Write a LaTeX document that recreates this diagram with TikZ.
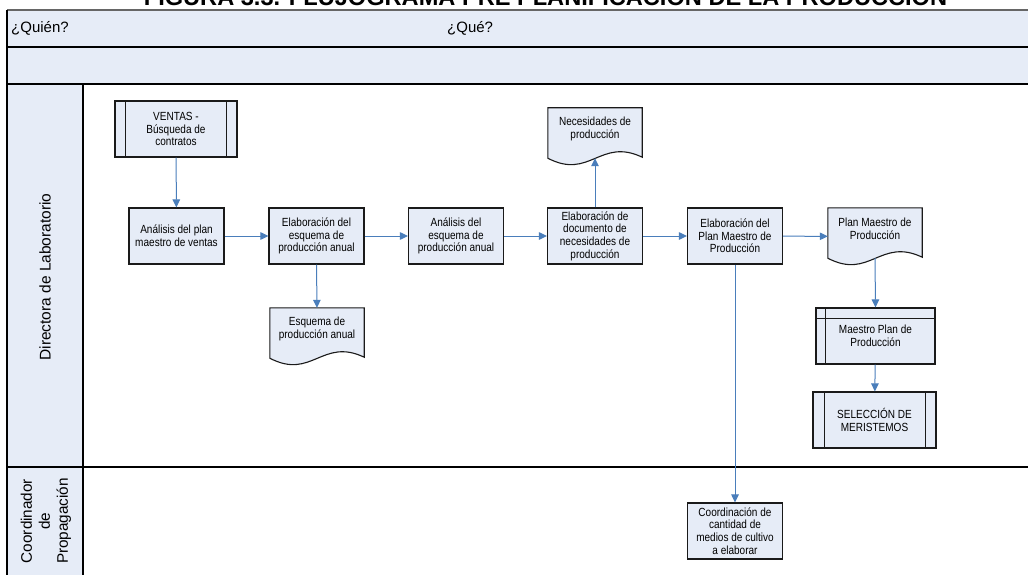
\documentclass[tikz,border=0pt]{standalone}
\usepackage{fontspec}
\setmainfont{Liberation Sans}
\newfontfamily\boxfont[FakeStretch=0.85]{Liberation Sans}
\usetikzlibrary{arrows.meta,calc}
\definecolor{paleblue}{HTML}{E6ECF7}
\definecolor{flowblue}{HTML}{4A7EBB}
\definecolor{edgegray}{HTML}{1A1A1A}

% outline of a "document" symbol with a wavy lower edge
\newcommand{\docoutline}[1]{%
  \draw[docline] (#1.north west) -- (#1.north east)
    -- ($(#1.south east)+(0,-8)$)
    .. controls ($(#1.south east)+(-42,-28)$) and ($(#1.south west)+(42,15)$)
    .. ($(#1.south west)+(0,-7)$) -- cycle;}

\begin{document}
\begin{tikzpicture}[x=1pt,y=-1pt,
  box/.style={draw=edgegray, line width=1.1pt, fill=paleblue,
    minimum width=95pt, minimum height=56pt, inner sep=1pt, align=center,
    font={\boxfont\fontsize{11.8}{12.6}\selectfont}},
  docarea/.style={minimum width=94pt, minimum height=57pt, inner sep=0pt},
  docline/.style={draw=edgegray, line width=1.1pt, fill=paleblue},
  doctext/.style={align=center, inner sep=0pt,
    font={\boxfont\fontsize{11.8}{12.6}\selectfont}},
  inner/.style={draw=edgegray, line width=1.1pt},
  flow/.style={draw=flowblue, line width=1pt, -{Triangle[length=8pt,width=7.5pt]}},
  frame/.style={draw=black, line width=1.1pt},
]
\useasboundingbox (0,0) rectangle (1028,575);
\clip (0,0) rectangle (1028,575);

% header band and lane column
\fill[paleblue] (7,10) rectangle (1040,84);
\fill[paleblue] (7,84) rectangle (83,580);
\draw[draw=black!60, line width=1.6pt] (7,10) -- (1040,10);
\draw[frame] (7,47) -- (1040,47);
\draw[frame] (7,84) -- (1040,84);
\draw[frame] (7,10) -- (7,580);
\draw[frame] (83,84) -- (83,580);
\draw[frame] (7,467) -- (1040,467);

% title (its upper part lies above the page edge)
\node[anchor=base, inner sep=0pt, font=\fontsize{23.6}{26}\selectfont\bfseries]
  (title) at (545.5,5.5) {FIGURA 3.3. FLUJOGRAMA PRE PLANIFICACIÓN DE LA PRODUCCIÓN};

% header labels
\node[anchor=west, inner sep=0pt, font=\fontsize{15}{17}\selectfont] (quien) at (11,28.5) {¿Quién?};
\node[anchor=west, inner sep=0pt, font=\fontsize{15}{17}\selectfont] (que) at (447,28.5) {¿Qué?};

% lane labels
\node[rotate=90, font=\fontsize{15.5}{18}\selectfont] (lane1) at (45,277) {Directora de Laboratorio};
\node[rotate=90, align=center, font=\fontsize{15.3}{18}\selectfont] (lane2) at (46,521) {Coordinador\\de\\Propagación};

% process steps
\node[box, minimum width=122pt] (ventas) at (176,129) {VENTAS -\\Búsqueda de\\contratos};
\draw[inner] ($(ventas.north west)+(11,0)$) -- ($(ventas.south west)+(11,0)$);
\draw[inner] ($(ventas.north east)+(-11,0)$) -- ($(ventas.south east)+(-11,0)$);

\node[box] (analisis1) at (176.5,236) {Análisis del plan\\maestro de ventas};
\node[box] (esquema) at (316.5,236) {Elaboración del\\esquema de\\producción anual};
\node[box] (analisis2) at (456,236) {Análisis del\\esquema de\\producción anual};
\node[box] (documento) at (595,236) {Elaboración de\\documento de\\necesidades de\\producción};
\node[box] (plan) at (735,236) {Elaboración del\\Plan Maestro de\\Producción};
\node[box] (coord) at (735,531) {Coordinación de\\cantidad de\\medios de cultivo\\a elaborar};

\node[box, minimum width=119pt] (maestro) at (875.5,336) {Maestro Plan de\\Producción};
\draw[inner] ($(maestro.north west)+(10,0)$) -- ($(maestro.south west)+(10,0)$);
\draw[inner] ($(maestro.north west)+(0,11)$) -- ($(maestro.north east)+(0,11)$);

\node[box, minimum width=123pt] (seleccion) at (874.5,420) {SELECCIÓN DE\\MERISTEMOS};
\draw[inner] ($(seleccion.north west)+(12,0)$) -- ($(seleccion.south west)+(12,0)$);
\draw[inner] ($(seleccion.north east)+(-11,0)$) -- ($(seleccion.south east)+(-11,0)$);

% documents
\node[docarea] (esqdoc) at (317,336.5) {};
\docoutline{esqdoc}
\node[doctext] (esqtxt) at ($(esqdoc.north)+(0,21)$) {Esquema de\\producción anual};

\node[docarea] (necdoc) at (595,136.5) {};
\docoutline{necdoc}
\node[doctext] (nectxt) at ($(necdoc.north)+(0,21)$) {Necesidades de\\producción};

\node[docarea] (pmdoc) at (875,236.5) {};
\docoutline{pmdoc}
\node[doctext] (pmtxt) at ($(pmdoc.north)+(0,21)$) {Plan Maestro de\\Producción};

% connectors
\coordinate (necin) at ($(necdoc.south)+(0,-7)$);
\coordinate (pmout) at ($(pmdoc.south)+(0,-7)$);
\draw[flow] (ventas) -- (analisis1);
\draw[flow] (analisis1) -- (esquema);
\draw[flow] (esquema) -- (analisis2);
\draw[flow] (esquema.south) -- (esqdoc.north);
\draw[flow] (analisis2) -- (documento);
\draw[flow] (documento.north) -- (necin);
\draw[flow] (documento) -- (plan);
\draw[flow] (plan) -- (pmdoc);
\draw[flow] (pmout) -- (maestro.north);
\draw[flow] (maestro) -- (seleccion);
\draw[flow] (plan.south) -- (coord.north);
\end{tikzpicture}
\end{document}
